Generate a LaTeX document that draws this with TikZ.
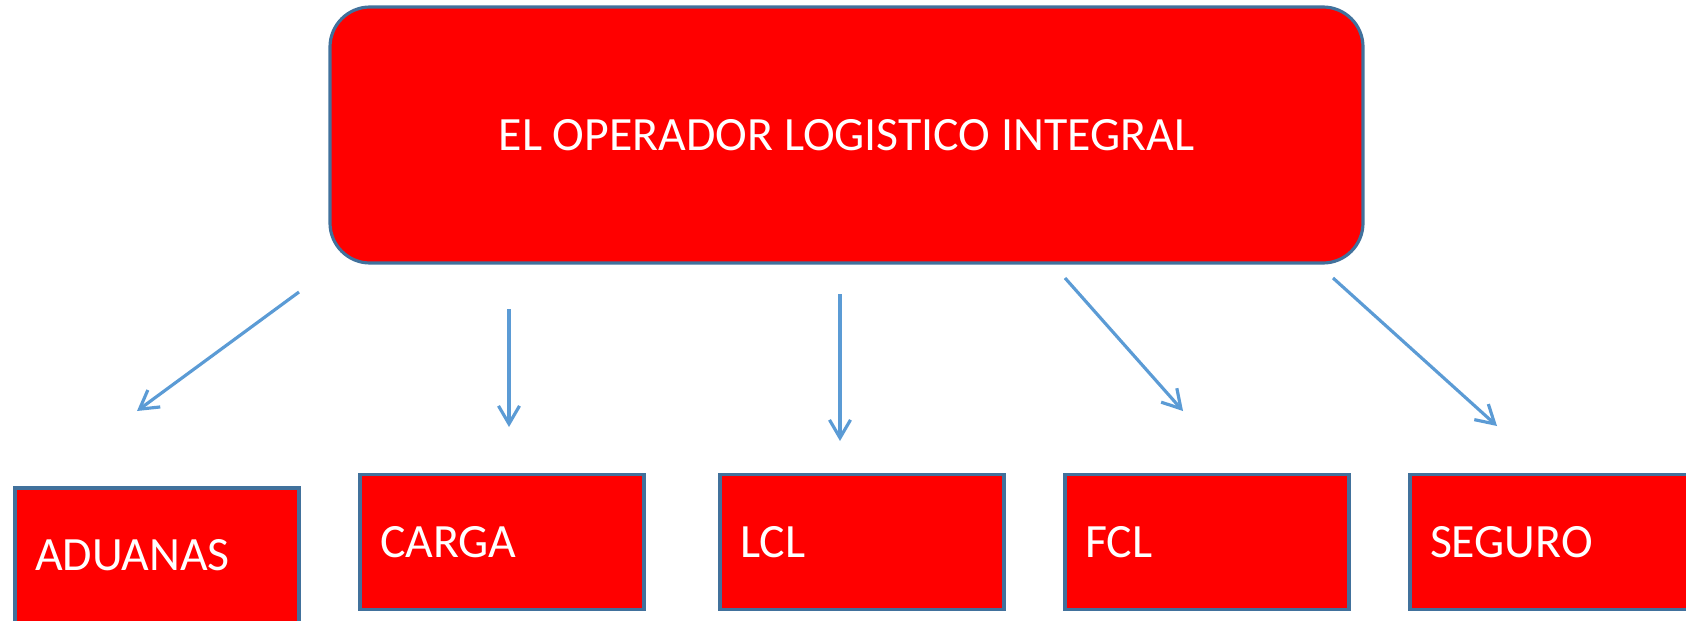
\documentclass[tikz,border=0pt]{standalone}
\usepackage{fontspec}
\setmainfont{Carlito}
\usetikzlibrary{arrows.meta}
\definecolor{rojo}{RGB}{255,0,0}
\definecolor{borde}{RGB}{65,113,156}
\definecolor{flecha}{RGB}{91,155,213}
\begin{document}
\begin{tikzpicture}[
		caja/.style={draw=borde,line width=0.9pt,fill=rojo,text=white,font=\fontsize{13.6}{16}\selectfont},
		hoja/.style={caja,minimum height=1.35cm,inner xsep=0.2cm,text width=2.44cm,align=left},
		flech/.style={draw=flecha,line width=0.9pt,-{Straight Barb[length=1.8mm,width=2.1mm]}}]
		\useasboundingbox (0,0) rectangle (16.86,6.20);
		\node[caja,rounded corners=0.4cm,minimum width=10.33cm,minimum height=2.56cm] (oli) at (8.465,4.85) {EL OPERADOR LOGISTICO INTEGRAL};
		\node[hoja] (aduanas) at (1.57,0.645) {ADUANAS};
		\node[hoja] (carga) at (5.02,0.78) {CARGA};
		\node[hoja] (lcl) at (8.62,0.78) {LCL};
		\node[hoja] (fcl) at (12.07,0.78) {FCL};
		\node[hoja] (seguro) at (15.52,0.78) {SEGURO};
		\coordinate (s1) at (2.99,3.28); \coordinate (e1) at (1.37,2.09);
		\coordinate (s2) at (5.09,3.11); \coordinate (e2) at (5.09,1.93);
		\coordinate (s3) at (8.40,3.26); \coordinate (e3) at (8.40,1.79);
		\coordinate (s4) at (10.65,3.42); \coordinate (e4) at (11.83,2.09);
		\coordinate (s5) at (13.33,3.42); \coordinate (e5) at (14.97,1.94);
		\foreach \i in {1,...,5}
			\draw[flech] (s\i) -- (e\i);
	\end{tikzpicture}
\end{document}
